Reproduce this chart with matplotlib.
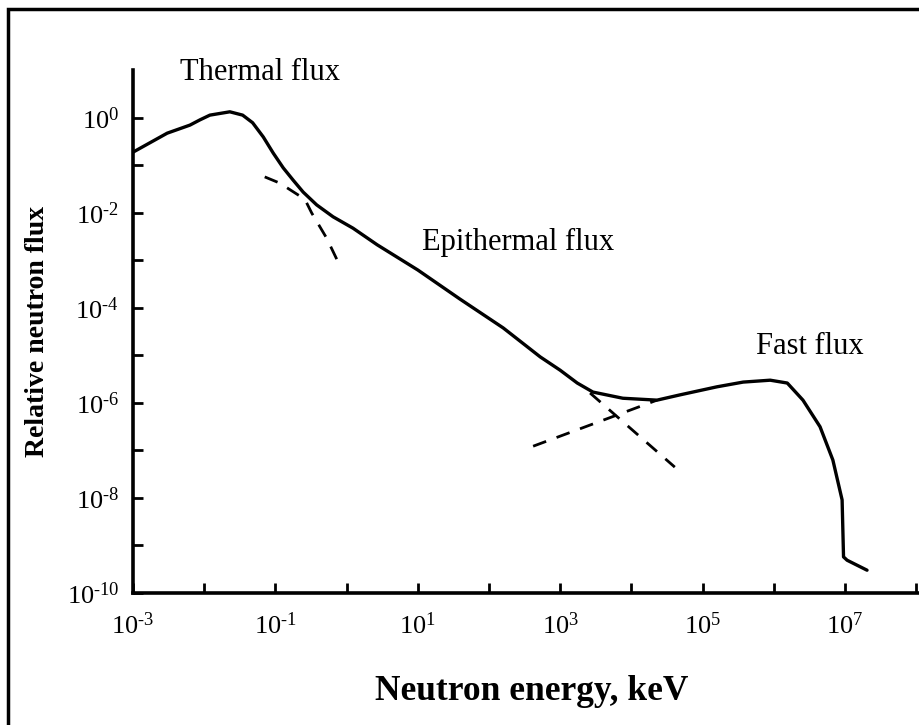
import matplotlib
matplotlib.use("Agg")
import matplotlib.pyplot as plt
import numpy as np
from matplotlib.patches import Rectangle

plt.rcParams["font.family"] = "Liberation Serif"
plt.rcParams["mathtext.fontset"] = "custom"
plt.rcParams["mathtext.rm"] = "Liberation Serif"
plt.rcParams["mathtext.it"] = "Liberation Serif"

# main flux curve, log10 values
curve_logE = [-3.0, -2.52, -2.2, -2.06, -1.92, -1.64, -1.46, -1.32, -1.17, -1.03, -0.89, -0.75,
              -0.61, -0.42, -0.19, 0.09, 0.43, 1.0, 1.59, 2.2, 2.72, 3.0, 3.24, 3.46, 3.88,
              4.36, 4.68, 5.2, 5.57, 5.95, 6.19, 6.41, 6.65, 6.83, 6.96, 6.98, 7.03, 7.31]
curve_logF = [-0.72, -0.32, -0.15, -0.04, 0.06, 0.13, 0.06, -0.1, -0.4, -0.74, -1.05, -1.31,
              -1.56, -1.83, -2.08, -2.32, -2.67, -3.2, -3.81, -4.42, -5.03, -5.31, -5.58, -5.77, -5.9,
              -5.94, -5.83, -5.66, -5.56, -5.52, -5.58, -5.94, -6.5, -7.2, -8.04, -9.24, -9.31, -9.52]

# dashed extrapolations
thermal_logE = [-1.15, -0.94, -0.66, -0.58, -0.49, -0.28, -0.12]
thermal_logF = [-1.24, -1.37, -1.64, -1.73, -2.0, -2.53, -3.03]
fast_logE = [2.62, 4.36]
fast_logF = [-6.91, -5.94]
epi_logE = [3.42, 4.61]
epi_logF = [-5.79, -7.35]

x_tick_exp = [-3, -2, -1, 0, 1, 2, 3, 4, 5, 6, 7, 8]
x_label_exp = [-3, -1, 1, 3, 5, 7]
y_tick_exp = [0, -1, -2, -3, -4, -5, -6, -7, -8, -9, -10]
y_label_exp = [0, -2, -4, -6, -8, -10]

fig = plt.figure(figsize=(9.2, 7.25), dpi=100)
ax = fig.add_axes([133 / 920, 1 - 593 / 725, (919 - 133) / 920, (593 - 70) / 725])

def p(e):
    return 10.0 ** np.array(e)

def lab(e):
    # hyphen instead of a math minus, like the scanned labels
    return "$10^{%s}$" % str(e).replace("-", "\u2010")

ax.plot(p(curve_logE), p(curve_logF), color="black", lw=2.4, solid_capstyle="round")
for xe, ye in [(thermal_logE, thermal_logF), (fast_logE, fast_logF), (epi_logE, epi_logF)]:
    ax.plot(p(xe), p(ye), color="black", lw=2.0, dashes=(5, 4))

ax.set_xscale("log")
ax.set_yscale("log")
ax.set_xlim(1e-3, 10 ** 8.04)
ax.set_ylim(1e-10, 10 ** 1.01)

ax.xaxis.set_major_locator(matplotlib.ticker.FixedLocator(p(x_tick_exp)))
ax.xaxis.set_minor_locator(matplotlib.ticker.NullLocator())
ax.set_xticklabels([lab(e) if e in x_label_exp else "" for e in x_tick_exp])
ax.yaxis.set_major_locator(matplotlib.ticker.FixedLocator(p(y_tick_exp)))
ax.yaxis.set_minor_locator(matplotlib.ticker.NullLocator())
ax.set_yticklabels([lab(e) if e in y_label_exp else "" for e in y_tick_exp])

ax.tick_params(axis="both", direction="in", length=7, width=2, labelsize=19)
ax.tick_params(axis="x", pad=14)
ax.tick_params(axis="y", pad=10)
for s in ["top", "right"]:
    ax.spines[s].set_visible(False)
for s in ["left", "bottom"]:
    ax.spines[s].set_linewidth(2.6)

ax.set_xlabel("Neutron energy, keV", fontsize=25.5, fontweight="bold", labelpad=26,
              x=(532 - 133) / 786)
ax.set_ylabel("Relative neutron flux", fontsize=20, fontweight="bold", labelpad=12)

fig.text(260 / 920, 1 - 72 / 725, "Thermal flux", fontsize=22, ha="center", va="center")
fig.text(518 / 920, 1 - 242 / 725, "Epithermal flux", fontsize=22, ha="center", va="center")
fig.text(810 / 920, 1 - 347 / 725, "Fast flux", fontsize=22, ha="center", va="center")

fig.patches.append(Rectangle((8 / 920, -0.1), 1.2, 1 - 9 / 725 + 0.1, transform=fig.transFigure,
                             fill=False, edgecolor="black", lw=2.5, clip_on=False))

fig.savefig("out.png", dpi=100)
